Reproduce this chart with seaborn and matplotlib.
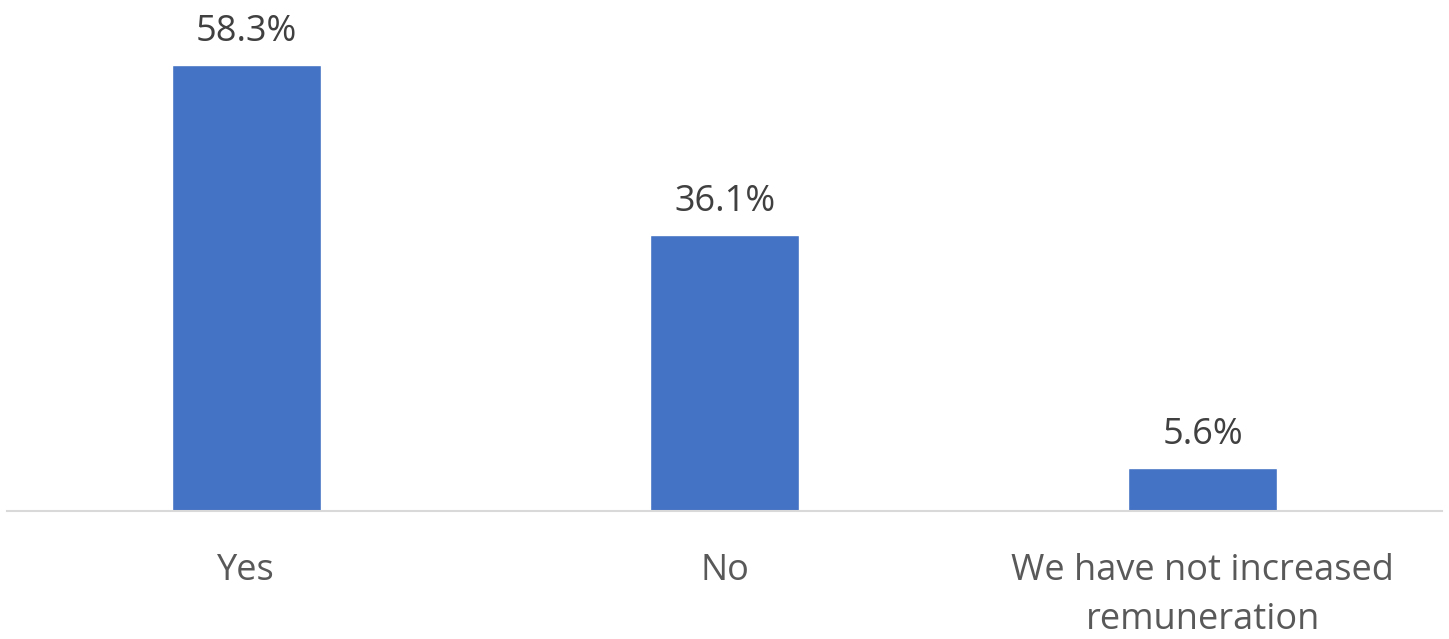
import numpy as np
import pandas as pd
import seaborn as sns
import matplotlib.pyplot as plt

categories = ["Yes", "No", "We have not increased\nremuneration"]
values = [58.3, 36.1, 5.6]
value_labels = ["58.3%", "36.1%", "5.6%"]

sns.set_style("white")
plt.rcParams["font.family"] = ["Open Sans", "DejaVu Sans"]

df = pd.DataFrame({"Answer": categories, "Share": values})

fig = plt.figure(figsize=(14.49, 6.39), dpi=100)
ax = fig.add_axes([0.005, 0.2, 0.99, 0.8])

sns.barplot(data=df, x="Answer", y="Share", color="#4472C4", width=0.3125,
            saturation=1, ax=ax)

ax.set_ylim(0, 66.8)
ax.set_xlim(-0.5, 2.5)

for i, (v, lab) in enumerate(zip(values, value_labels)):
    ax.annotate(lab, (i, v), xytext=(0, 11), textcoords="offset points",
                ha="center", va="bottom", fontsize=26, color="#404040")

ax.set_xlabel("")
ax.set_ylabel("")
ax.set_yticks([])
ax.tick_params(axis="x", length=0, pad=30, labelsize=26, labelcolor="#595959")
ax.set_xticks(range(len(categories)))
ax.set_xticklabels(categories, linespacing=1.5, va="top")

for side in ["top", "right", "left"]:
    ax.spines[side].set_visible(False)
ax.spines["bottom"].set_color("#D9D9D9")
ax.spines["bottom"].set_linewidth(1.5)

plt.savefig("out.png", dpi=100)
